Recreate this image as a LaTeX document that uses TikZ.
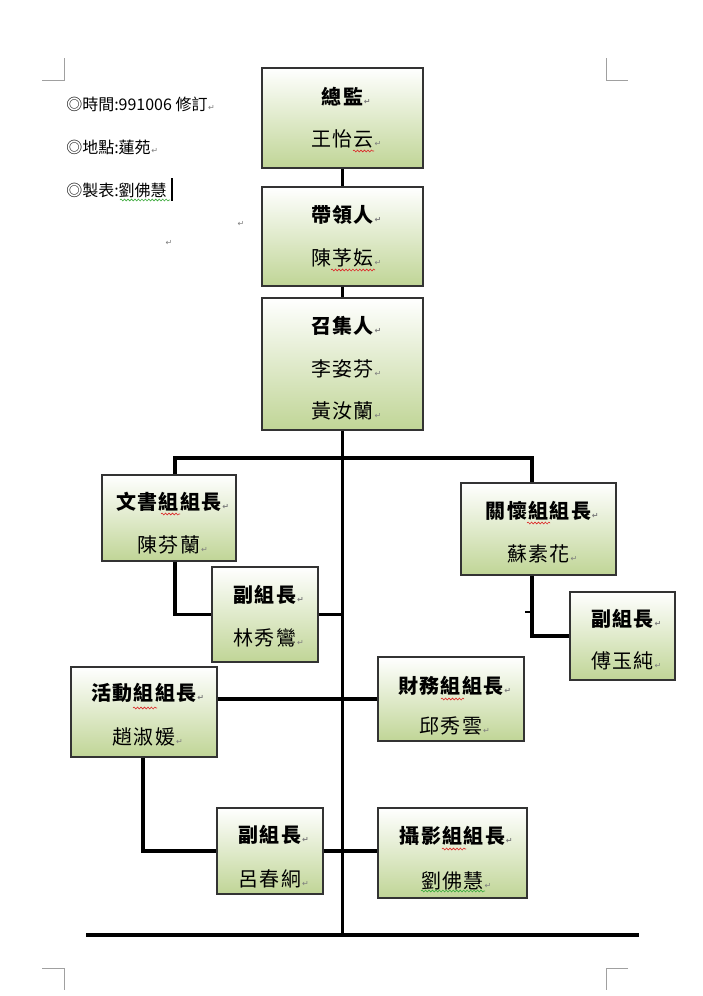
\documentclass[tikz,border=0pt]{standalone}
\usepackage{fontspec}
\newfontfamily\cjk{Noto Sans CJK TC}[LetterSpace=7]
\newfontfamily\cjkhdr{Noto Sans CJK TC}
\newfontfamily\djv{DejaVu Sans}
\usetikzlibrary{calc,decorations.pathmorphing}
\definecolor{boxgreen}{RGB}{192,213,150}
\definecolor{mkgray}{RGB}{125,125,125}
\definecolor{cornergray}{RGB}{160,160,160}
\definecolor{spellred}{RGB}{220,40,40}
\definecolor{spellgreen}{RGB}{60,170,60}
\newcommand\pmk{\rlap{\hspace{0.5pt}{\djv\fontsize{6}{6}\selectfont\color{mkgray}↵}}}
\tikzset{
  orgbox/.style={draw=black!80, line width=1.1pt, top color=white, bottom color=boxgreen, inner sep=0pt, shape=rectangle},
  ttl/.style={font=\cjk\bfseries\fontsize{15}{17}\selectfont, inner sep=0pt, anchor=center},
  nm/.style={font=\cjk\fontsize{15}{17}\selectfont, inner sep=0pt, anchor=center},
  hdr/.style={font=\cjkhdr\fontsize{12}{14}\selectfont, inner sep=0pt, anchor=west},
  conn/.style={draw=black, line width=2.5pt, line join=miter},
  trunk/.style={draw=black, line width=2.4pt},
  baseln/.style={draw=black, line width=3pt},
  corner/.style={draw=cornergray, line width=0.7pt},
  wavyred/.style={draw=spellred, line width=0.45pt, decorate, decoration={snake, amplitude=0.7pt, segment length=2.6pt}},
  wavygreen/.style={draw=spellgreen, line width=0.45pt, decorate, decoration={snake, amplitude=0.7pt, segment length=2.6pt}},
  strmk/.style={font=\djv\fontsize{6}{6}\selectfont, text=mkgray, inner sep=0pt}
}
\begin{document}
\begin{tikzpicture}[x=0.75pt,y=-0.75pt]
\useasboundingbox (0,0) rectangle (703,996);
\fill[white] (0,0) rectangle (703,996);

% corner marks
\draw[corner] (42,80) -- (64,80) -- (64,58);
\draw[corner] (606,58) -- (606,80) -- (628,80);
\draw[corner] (42,968) -- (64,968) -- (64,990);
\draw[corner] (628,968) -- (606,968) -- (606,990);

% header texts
\node[hdr] (h1) at (66,104) {◎時間:991006 修訂\pmk};
\node[hdr] (h2) at (66,147) {◎地點:蓮苑\pmk};
\node[hdr] (h3) at (66,190) {◎製表:劉佛慧};
\draw[wavygreen] (120,200) -- (170,200);
\draw[line width=1.6pt] (172,178) -- (172,201);
\node[strmk] (s1) at (241,224) {↵};
\node[strmk] (s2) at (169,243) {↵};

% boxes
\node[orgbox, minimum width={161*0.75pt}, minimum height={100*0.75pt}] (zj) at (342.5,118) {};
\node[orgbox, minimum width={161*0.75pt}, minimum height={99*0.75pt}] (dl) at (342.5,236.5) {};
\node[orgbox, minimum width={161*0.75pt}, minimum height={132*0.75pt}] (zr) at (342.5,364) {};
\node[orgbox, minimum width={134*0.75pt}, minimum height={86*0.75pt}] (ws) at (169,518) {};
\node[orgbox, minimum width={106*0.75pt}, minimum height={95*0.75pt}] (ws2) at (265,614.5) {};
\node[orgbox, minimum width={155*0.75pt}, minimum height={92*0.75pt}] (gh) at (538.5,529) {};
\node[orgbox, minimum width={105*0.75pt}, minimum height={88*0.75pt}] (gh2) at (622.5,636) {};
\node[orgbox, minimum width={146*0.75pt}, minimum height={90*0.75pt}] (hd) at (144,712) {};
\node[orgbox, minimum width={146*0.75pt}, minimum height={84*0.75pt}] (cw) at (451,699) {};
\node[orgbox, minimum width={106*0.75pt}, minimum height={86*0.75pt}] (hd2) at (270,851) {};
\node[orgbox, minimum width={149*0.75pt}, minimum height={90*0.75pt}] (sy) at (452.5,853) {};

% box texts
\node[ttl] (zjT) at ($(zj.north)+(0,29)$) {總監\pmk};
\node[nm] (zjN) at ($(zj.north)+(0,72)$) {王怡云\pmk};
\node[ttl] (dlT) at ($(dl.north)+(0,29)$) {帶領人\pmk};
\node[nm] (dlN) at ($(dl.north)+(0,72)$) {陳芧妘\pmk};
\node[ttl] (zrT) at ($(zr.north)+(0,29)$) {召集人\pmk};
\node[nm] (zrN1) at ($(zr.north)+(0,72)$) {李姿芬\pmk};
\node[nm] (zrN2) at ($(zr.north)+(0,114)$) {黃汝蘭\pmk};
\node[ttl] (wsT) at ($(ws.north)+(0,28)$) {文書組組長\pmk};
\node[nm] (wsN) at ($(ws.north)+(0,71)$) {陳芬蘭\pmk};
\node[ttl] (ws2T) at ($(ws2.north)+(0,29)$) {副組長\pmk};
\node[nm] (ws2N) at ($(ws2.north)+(0,72)$) {林秀鸞\pmk};
\node[ttl] (ghT) at ($(gh.north)+(0,29)$) {關懷組組長\pmk};
\node[nm] (ghN) at ($(gh.north)+(0,72)$) {蘇素花\pmk};
\node[ttl] (gh2T) at ($(gh2.north)+(0,28)$) {副組長\pmk};
\node[nm] (gh2N) at ($(gh2.north)+(0,70)$) {傅玉純\pmk};
\node[ttl] (hdT) at ($(hd.north)+(0,27)$) {活動組組長\pmk};
\node[nm] (hdN) at ($(hd.north)+(0,71)$) {趙淑媛\pmk};
\node[ttl] (cwT) at ($(cw.north)+(0,30)$) {財務組組長\pmk};
\node[nm] (cwN) at ($(cw.north)+(0,70)$) {邱秀雲\pmk};
\node[ttl] (hd2T) at ($(hd2.north)+(0,28)$) {副組長\pmk};
\node[nm] (hd2N) at ($(hd2.north)+(0,72)$) {呂春絅\pmk};
\node[ttl] (syT) at ($(sy.north)+(0,29)$) {攝影組組長\pmk};
\node[nm] (syN) at ($(sy.north)+(0,74)$) {劉佛慧\pmk};

% spelling marks
\draw[wavyred] (353,151) -- (374,151);
\draw[wavyred] (331,270) -- (375,270);
\draw[wavyred] (161,514) -- (180,514);
\draw[wavyred] (527,523) -- (550,523);
\draw[wavyred] (133,708) -- (157,708);
\draw[wavyred] (441,699) -- (464,699);
\draw[wavyred] (442,849) -- (466,849);
\draw[wavygreen] (421,891) -- (485,891);

% connector coordinates
\coordinate (bl) at (86,935);
\coordinate (br) at (639,935);
\coordinate (hL) at (175,458);
\coordinate (hR) at (532,458);
\coordinate (trk) at (342,458);
\coordinate (hdx) at (143,757);
\coordinate (tkA) at (525,612);
\coordinate (tkB) at (532,612);

% connectors
\draw[trunk] (zj.south) -- (dl.north);
\draw[trunk] (dl.south) -- (zr.north);
\draw[trunk] (zr.south) -- (zr.south |- bl);
\draw[baseln] (bl) -- (br);
\draw[conn] (ws.north -| hL) -- (hL) -- (hR) -- (gh.north -| hR);
\draw[conn] (ws.south -| hL) |- (ws2.west);
\draw[conn] (ws2.east) -- (ws2.east -| trk);
\draw[conn] (gh.south -| hR) |- (gh2.west);
\draw[line width=0.8pt] (tkA) -- (tkB);
\draw[conn] (hd.east |- cw.west) -- (cw.west);
\draw[conn] (hd.south -| hdx) |- (hd2.west);
\draw[conn] (hd2.east) -- (hd2.east -| sy.west);
\end{tikzpicture}
\end{document}
